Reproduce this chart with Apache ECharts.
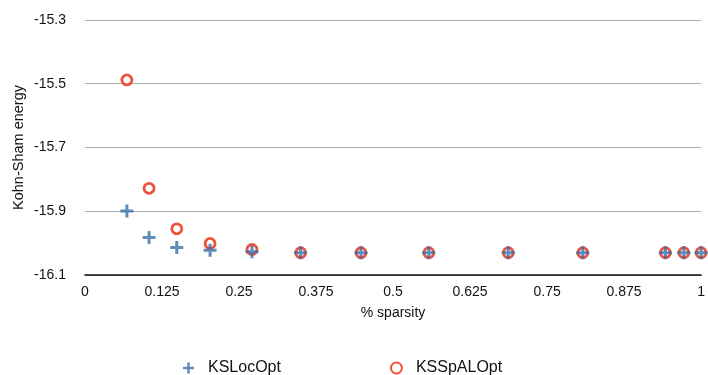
<!DOCTYPE html>
<html><head><meta charset="utf-8">
<script src="https://cdn.jsdelivr.net/npm/echarts@6/dist/echarts.min.js"></script>
<style>html,body{margin:0;padding:0;background:#fff}#c{width:708px;height:375px}</style>
</head><body><div id="c"></div>
<script>
const sparsity = [0.068, 0.104, 0.149, 0.203, 0.271, 0.35, 0.448, 0.558, 0.687, 0.808, 0.942, 0.972, 1.0];
const ksLocOpt = [-15.899, -15.982, -16.014, -16.022, -16.027, -16.030, -16.030, -16.030, -16.030, -16.030, -16.030, -16.030, -16.030];
const ksSpALOpt = [-15.488, -15.828, -15.955, -16.001, -16.020, -16.030, -16.030, -16.030, -16.030, -16.030, -16.030, -16.030, -16.030];
const seriesNames = ['KSLocOpt', 'KSSpALOpt'];

const plusPath = 'path://M5,0H8V5H13V8H8V13H5V8H0V5H5Z';
const font = '"Liberation Sans", Arial, sans-serif';
const chart = echarts.init(document.getElementById('c'));
chart.setOption({
  animation: false,
  textStyle: {fontFamily: font},
  grid: {left: 85, right: 5, top: 20, bottom: 100, containLabel: false},
  legend: {
    data: [{name: seriesNames[0], icon: plusPath}, {name: seriesNames[1], icon: 'circle'}],
    top: 355, left: 178, itemGap: 109, itemWidth: 11, itemHeight: 11,
    textStyle: {fontSize: 16, color: '#111', fontFamily: font, padding: [0, 0, 0, 9]}
  },
  xAxis: {
    type: 'value', min: 0, max: 1, interval: 0.125,
    name: '% sparsity', nameLocation: 'middle', nameGap: 31,
    nameTextStyle: {fontSize: 14, color: '#111'},
    axisLine: {show: true, lineStyle: {color: '#111', width: 1.5}},
    axisTick: {show: false},
    splitLine: {show: false},
    axisLabel: {fontSize: 14, color: '#111', margin: 10}
  },
  yAxis: {
    type: 'value', min: -16.1, max: -15.3, interval: 0.2,
    name: 'Kohn-Sham energy', nameLocation: 'middle', nameGap: 59, nameRotate: 90,
    nameMoveOverlap: false,
    nameTextStyle: {fontSize: 14.5, color: '#111'},
    axisLine: {show: false}, axisTick: {show: false},
    splitLine: {show: true, lineStyle: {color: '#aaa', width: 1}},
    axisLabel: {fontSize: 14, color: '#111', margin: 19, formatter: v => v.toFixed(1)}
  },
  series: [
    {
      name: seriesNames[0], type: 'scatter', z: 3,
      symbol: plusPath, symbolSize: 13,
      itemStyle: {color: '#3a6ea8'},
      data: sparsity.map((x, i) => [x, ksLocOpt[i]])
    },
    {
      name: seriesNames[1], type: 'scatter', z: 2,
      symbol: 'circle', symbolSize: 10,
      itemStyle: {color: '#fff', borderColor: '#e8280a', borderWidth: 2.8},
      data: sparsity.map((x, i) => [x, ksSpALOpt[i]])
    }
  ]
});
</script></body></html>
